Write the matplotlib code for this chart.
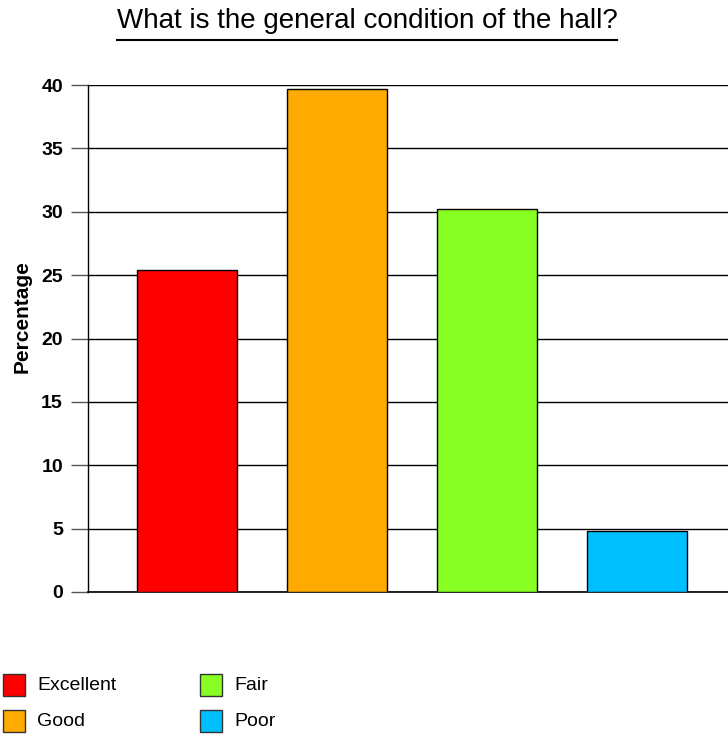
import matplotlib
matplotlib.use("Agg")
import matplotlib.pyplot as plt
from matplotlib.patches import Rectangle
from matplotlib.lines import Line2D

categories = ["Excellent", "Good", "Fair", "Poor"]
values = [25.4, 39.7, 30.2, 4.8]
colors = ["#FF0000", "#FFAA00", "#88FF22", "#00BFFF"]
yticks = [0, 5, 10, 15, 20, 25, 30, 35, 40]
title = "What is the general condition of the hall?"
ylabel = "Percentage"

plt.rcParams['font.family'] = ['Liberation Sans', 'DejaVu Sans']

W, H = 728, 737
fig = plt.figure(figsize=(W / 100, H / 100), dpi=100)
ax = fig.add_axes([88 / W, (H - 592) / H, 1 - 88 / W, (592 - 85) / H])

x = list(range(len(categories)))
ax.bar(x, values, width=2 / 3, color=colors, edgecolor="black", linewidth=1, zorder=3)
ax.set_xlim(-0.66, 3.607)
ax.set_ylim(0, 40)
ax.set_yticks(yticks)
ax.set_yticklabels([str(t) for t in yticks], fontsize=14, fontweight="bold")
ax.yaxis.grid(True, color="black", linewidth=1, zorder=0)
ax.set_xticks([])
ax.tick_params(axis="y", length=12, width=1, color="#555555", pad=6)
for s in ["top", "right"]:
    ax.spines[s].set_visible(False)
ax.spines["left"].set_linewidth(1)
ax.spines["bottom"].set_linewidth(1.2)
ax.set_ylabel(ylabel, fontsize=15, fontweight="bold", va="center")
ax.yaxis.set_label_coords(-(88 - 22) / (W - 88), (592 - 317) / (592 - 85))

t = fig.text(367 / W, 1 - 21 / H, title, fontsize=20, ha="center", va="center")
fig.canvas.draw()
bb = t.get_window_extent(renderer=fig.canvas.get_renderer())
uy = (H - 40) / H
fig.add_artist(Line2D([bb.x0 / W, bb.x1 / W], [uy, uy], color="black", linewidth=1.5,
                      transform=fig.transFigure))

# legend (two columns)
pos = [(3, 674), (3, 710), (200, 674), (200, 710)]
for (px, py), cat, col in zip(pos, categories, colors):
    fig.add_artist(Rectangle((px / W, 1 - (py + 22) / H), 22 / W, 22 / H,
                             facecolor=col, edgecolor="#333333", linewidth=1,
                             transform=fig.transFigure))
    fig.text((px + 34) / W, 1 - (py + 11) / H, cat, fontsize=14, ha="left", va="center")

fig.savefig("out.png", dpi=100)
